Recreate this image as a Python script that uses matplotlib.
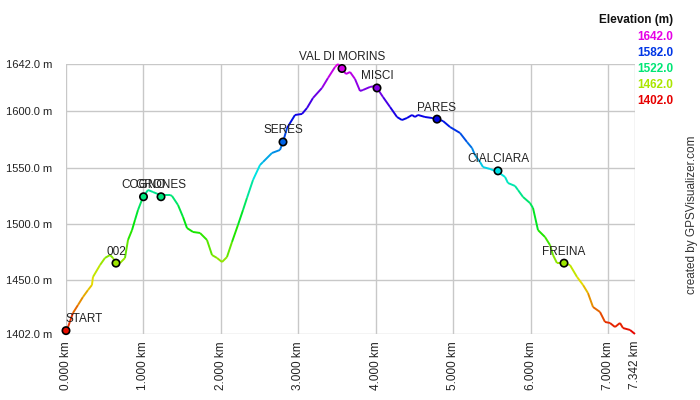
import numpy as np
import matplotlib
matplotlib.use("Agg")
import matplotlib.pyplot as plt
from matplotlib.collections import LineCollection
from matplotlib.colors import LinearSegmentedColormap, Normalize, hsv_to_rgb

plt.rcParams["font.family"] = ["Liberation Sans", "DejaVu Sans"]

# Track profile (distance in km, elevation in m)
dist_km = [0.0, 0.013, 0.09, 0.155, 0.219, 0.284, 0.335, 0.348, 0.439, 0.503,
           0.568, 0.606, 0.645, 0.697, 0.761, 0.8, 0.852, 0.89, 0.929, 0.994,
           1.058, 1.123, 1.213, 1.342, 1.368, 1.445, 1.51, 1.561, 1.639, 1.729,
           1.819, 1.884, 1.948, 2.013, 2.077, 2.142, 2.219, 2.284, 2.335, 2.413,
           2.503, 2.542, 2.658, 2.761, 2.8, 2.852, 2.955, 3.045, 3.11, 3.187,
           3.303, 3.381, 3.471, 3.51, 3.561, 3.613, 3.665, 3.729, 3.794, 3.832,
           3.923, 3.987, 4.013, 4.09, 4.181, 4.271, 4.335, 4.4, 4.465, 4.503,
           4.542, 4.632, 4.723, 4.787, 4.865, 4.955, 5.084, 5.174, 5.239, 5.277,
           5.342, 5.381, 5.471, 5.574, 5.665, 5.703, 5.794, 5.832, 5.897, 5.987,
           6.026, 6.09, 6.181, 6.245, 6.284, 6.335, 6.426, 6.503, 6.594, 6.671,
           6.735, 6.8, 6.89, 6.955, 7.019, 7.084, 7.148, 7.187, 7.277, 7.342]
elev_m = [1402, 1405.6, 1420.7, 1427.8, 1434.9, 1441.1, 1445.6, 1452.7, 1463.3, 1469.6,
          1472.2, 1469.6, 1465.1, 1465.1, 1469.6, 1485.6, 1494.4, 1503.3, 1512.2, 1523.8,
          1530, 1528.2, 1525.6, 1525.6, 1524.7, 1516.7, 1506, 1496.2, 1492.7, 1491.8,
          1485.6, 1472.2, 1469.6, 1466, 1470.4, 1483.8, 1498.9, 1512.2, 1522.9, 1538.9,
          1552.2, 1554.9, 1562.9, 1565.6, 1572.7, 1585.1, 1596.7, 1597.6, 1602.9, 1611.8,
          1620.7, 1629.6, 1639.3, 1642, 1637.6, 1633.1, 1634.9, 1628.7, 1618, 1618.9,
          1621.6, 1622.4, 1620.7, 1612.7, 1603.8, 1594.9, 1592.2, 1594, 1596.7, 1594.9,
          1596.7, 1594.9, 1594, 1593.1, 1591.3, 1586, 1580.7, 1572.7, 1567.3, 1561.1,
          1554.9, 1550.4, 1548.7, 1546, 1541.6, 1536.2, 1533.6, 1530, 1523.8, 1518.4,
          1514, 1494.4, 1488.2, 1481.1, 1472.2, 1465.1, 1465.1, 1463.3, 1452.7, 1445.6,
          1438.4, 1426, 1421.6, 1412.7, 1411.8, 1408.2, 1411.8, 1407.3, 1405.6, 1402]

# Waypoints
wpt_names = ["START", "002", "COGNO", "GRONES", "SERES", "VAL DI MORINS",
             "MISCI", "PARES", "CIALCIARA", "FREINA"]
wpt_km = [0.0, 0.645, 1.0, 1.226, 2.8, 3.561, 4.013, 4.787, 5.574, 6.426]
wpt_elev = [1405, 1465, 1524, 1524, 1572.7, 1638, 1620.7, 1593, 1547, 1465]

y_ticks = [1402, 1450, 1500, 1550, 1600, 1642]
x_ticks = [0, 1, 2, 3, 4, 5, 6, 7, 7.342]
legend_vals = [1642.0, 1582.0, 1522.0, 1462.0, 1402.0]
elev_min, elev_max = 1402, 1642

# hue scale red -> magenta like GPSVisualizer
hues = np.linspace(0, 300 / 360, 64)
cmap = LinearSegmentedColormap.from_list(
    "gpsv", [hsv_to_rgb((h, 1.0, 0.9)) for h in hues])
norm = Normalize(elev_min, elev_max)

fig = plt.figure(figsize=(7, 4), dpi=100)
ax = fig.add_axes([66 / 700, 66 / 400, 569 / 700, 270 / 400])

x = np.array(dist_km)
y = np.array(elev_m)
pts = np.column_stack([x, y]).reshape(-1, 1, 2)
segs = np.concatenate([pts[:-1], pts[1:]], axis=1)
lc = LineCollection(segs, cmap=cmap, norm=norm, linewidth=1.4, zorder=3)
lc.set_array((y[:-1] + y[1:]) / 2)
lc.set_clip_on(False)
ax.add_collection(lc)

ax.scatter(wpt_km, wpt_elev, c=wpt_elev, cmap=cmap, norm=norm, s=28,
           edgecolors="black", linewidths=1.2, zorder=4, clip_on=False)
for name, wx, wy in zip(wpt_names, wpt_km, wpt_elev):
    ha = "left" if name == "START" else "center"
    ax.annotate(name, (wx, wy), xytext=(0, 4), textcoords="offset points",
                ha=ha, va="bottom", fontsize=8.5, color="#222222", zorder=5)

ax.set_xlim(0, 7.342)
ax.set_ylim(elev_min, elev_max)
ax.set_xticks(x_ticks)
ax.set_xticklabels([f"{v:.3f} km" for v in x_ticks], rotation=90, fontsize=8.5)
ax.set_yticks(y_ticks)
ax.set_yticklabels([f"{v:.1f} m" for v in y_ticks], fontsize=8)
ax.tick_params(axis="y", length=0, pad=10, colors="#222222")
ax.tick_params(axis="x", length=0, pad=5, colors="#222222")
ax.grid(True, color="#c8c8c8", linewidth=1)
ax.set_axisbelow(True)
for s in ax.spines.values():
    s.set_visible(False)

# elevation legend
fig.text(673 / 700, 1 - 20 / 400, "Elevation (m)", ha="right", va="center",
         fontsize=8.5, fontweight="bold", color="#111111")
for i, v in enumerate(legend_vals):
    fig.text(673 / 700, 1 - (37 + 16 * i) / 400, f"{v:.1f}", ha="right",
             va="center", fontsize=8.5, fontweight="bold", color=cmap(norm(v)))

fig.text(692 / 700, 1 - 215 / 400, "created by GPSVisualizer.com", rotation=90,
         ha="center", va="center", fontsize=8.5, color="#333333")

fig.savefig("out.png", dpi=100)
